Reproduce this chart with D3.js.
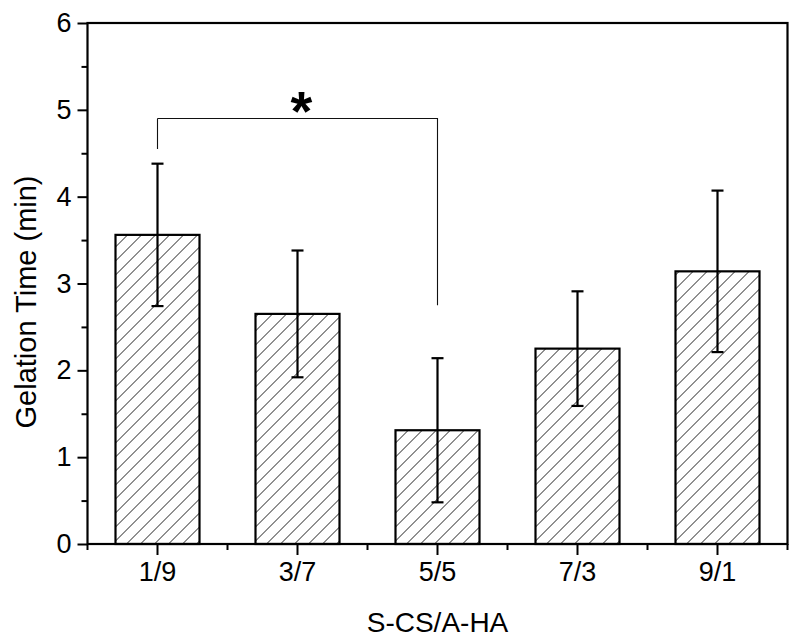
<!DOCTYPE html>
<html>
<head>
<meta charset="utf-8">
<script src="https://cdn.jsdelivr.net/npm/d3@7"></script>
<style>
  body { margin: 0; background: #fff; }
  text { font-family: Arial, "Liberation Sans", sans-serif; fill: #000; }
</style>
</head>
<body>
<div id="wrapper"></div>
<script>
// data
const ratios = ['1/9', '3/7', '5/5', '7/3', '9/1'];
const gelTime = [3.56, 2.65, 1.31, 2.25, 3.14];
const gelErr = [0.82, 0.73, 0.83, 0.66, 0.93];
const yTicks = [0, 1, 2, 3, 4, 5, 6];
const yMinorTicks = [0.5, 1.5, 2.5, 3.5, 4.5, 5.5];
// significance bracket: from group, to group, level, label
const sigFrom = '1/9';
const sigTo = '5/5';
const sigLevel = 4.9;
const sigLeftEnd = 4.55;
const sigRightEnd = 2.75;
const sigLabel = '*';

function drawChart() {
  let dimensions = {
    width: 800,
    height: 643,
    margin: { top: 23, right: 12.5, bottom: 99, left: 87.5 },
  }
  dimensions.boundedWidth = dimensions.width - dimensions.margin.left - dimensions.margin.right;
  dimensions.boundedHeight = dimensions.height - dimensions.margin.top - dimensions.margin.bottom;

  const wrapper = d3.select('#wrapper')
    .append('svg')
    .attr('width', dimensions.width)
    .attr('height', dimensions.height)

  const defs = wrapper.append('defs');
  defs.append('pattern')
    .attr('id', 'hatch')
    .attr('patternUnits', 'userSpaceOnUse')
    .attr('width', 14)
    .attr('height', 14)
    .append('path')
    .attr('d', 'M-1,15 L15,-1 M-4,4 L4,-4 M10,18 L18,10')
    .attr('stroke', '#222')
    .attr('stroke-width', 1);

  const bounds = wrapper.append('g')
    .attr('transform', `translate(${dimensions.margin.left},${dimensions.margin.top})`);

  const xScale = d3.scaleBand()
    .domain(ratios)
    .range([0, dimensions.boundedWidth])
    .paddingInner(0.4)
    .paddingOuter(0.2);

  const yScale = d3.scaleLinear()
    .domain([0, 6])
    .range([dimensions.boundedHeight, 0]);

  const rows = ratios.map((r, i) => ({ r, v: gelTime[i], e: gelErr[i] }));

  // bars
  bounds.selectAll('.bar')
    .data(rows)
    .enter()
    .append('rect')
    .attr('class', 'bar')
    .attr('x', d => xScale(d.r))
    .attr('y', d => yScale(d.v))
    .attr('width', xScale.bandwidth())
    .attr('height', d => yScale(0) - yScale(d.v))
    .attr('fill', 'url(#hatch)')
    .attr('stroke', '#000')
    .attr('stroke-width', 2.2);

  // error bars
  const cx = d => xScale(d.r) + xScale.bandwidth() / 2;
  const err = bounds.selectAll('.err')
    .data(rows)
    .enter()
    .append('g')
    .attr('class', 'err')
    .attr('stroke', '#000')
    .attr('stroke-width', 2.2);
  err.append('line')
    .attr('x1', cx).attr('x2', cx)
    .attr('y1', d => yScale(d.v + d.e))
    .attr('y2', d => yScale(d.v - d.e));
  err.append('line')
    .attr('x1', d => cx(d) - 6).attr('x2', d => cx(d) + 6)
    .attr('y1', d => yScale(d.v + d.e))
    .attr('y2', d => yScale(d.v + d.e));
  err.append('line')
    .attr('x1', d => cx(d) - 6).attr('x2', d => cx(d) + 6)
    .attr('y1', d => yScale(d.v - d.e))
    .attr('y2', d => yScale(d.v - d.e));

  // significance bracket
  const xa = xScale(sigFrom) + xScale.bandwidth() / 2;
  const xb = xScale(sigTo) + xScale.bandwidth() / 2;
  bounds.append('path')
    .attr('d', `M${xa},${yScale(sigLevel)} V${yScale(sigLeftEnd)} M${xa},${yScale(sigLevel)} H${xb} V${yScale(sigRightEnd)}`)
    .attr('fill', 'none')
    .attr('stroke', '#111')
    .attr('stroke-width', 1.1);
  const star = bounds.append('text')
    .attr('x', (xa + xb) / 2)
    .attr('y', yScale(sigLevel))
    .attr('text-anchor', 'middle')
    .style('font-size', '56px')
    .style('font-weight', 'bold')
    .text(sigLabel);
  // center the glyph a bit above the bracket, slightly right of the middle
  const sb = star.node().getBBox();
  const glyphTop = sb.y + sb.height * 0.22;   // asterisk sits in the upper part of the em box
  star.attr('transform', `translate(4,${yScale(sigLevel) - 26 - glyphTop})`);

  // axes
  bounds.append('g')
    .call(d3.axisLeft(yScale).tickValues(yTicks).tickFormat(d3.format('d')).tickSize(10).tickPadding(6));
  bounds.append('g')
    .call(d3.axisLeft(yScale).tickValues(yMinorTicks).tickFormat('').tickSize(6));

  bounds.append('g')
    .attr('transform', `translate(0,${dimensions.boundedHeight})`)
    .call(d3.axisBottom(xScale).tickSize(11).tickPadding(7));
  const minorX = ratios.map(r => xScale(r) - xScale.step() * 0.2).concat([dimensions.boundedWidth]);
  bounds.append('g')
    .attr('transform', `translate(0,${dimensions.boundedHeight})`)
    .selectAll('line')
    .data(minorX)
    .enter()
    .append('line')
    .attr('x1', d => d).attr('x2', d => d)
    .attr('y1', 0).attr('y2', 6)
    .attr('stroke', '#000')
    .attr('stroke-width', 2);

  bounds.selectAll('.domain').remove();
  bounds.selectAll('.tick line').attr('stroke-width', 2);
  bounds.selectAll('.tick text').style('font-size', '27px').attr('fill', '#000');

  // frame
  bounds.append('rect')
    .attr('width', dimensions.boundedWidth)
    .attr('height', dimensions.boundedHeight)
    .attr('fill', 'none')
    .attr('stroke', '#000')
    .attr('stroke-width', 2.2);

  // labels
  wrapper.append('text')
    .attr('x', dimensions.margin.left + xScale('5/5') + xScale.bandwidth() / 2)
    .attr('y', 632)
    .attr('text-anchor', 'middle')
    .style('font-size', '28px')
    .text('S-CS/A-HA');

  wrapper.append('text')
    .attr('transform', 'translate(36,302) rotate(-90)')
    .attr('text-anchor', 'middle')
    .style('font-size', '29px')
    .text('Gelation Time (min)');
}

drawChart();
</script>
</body>
</html>
